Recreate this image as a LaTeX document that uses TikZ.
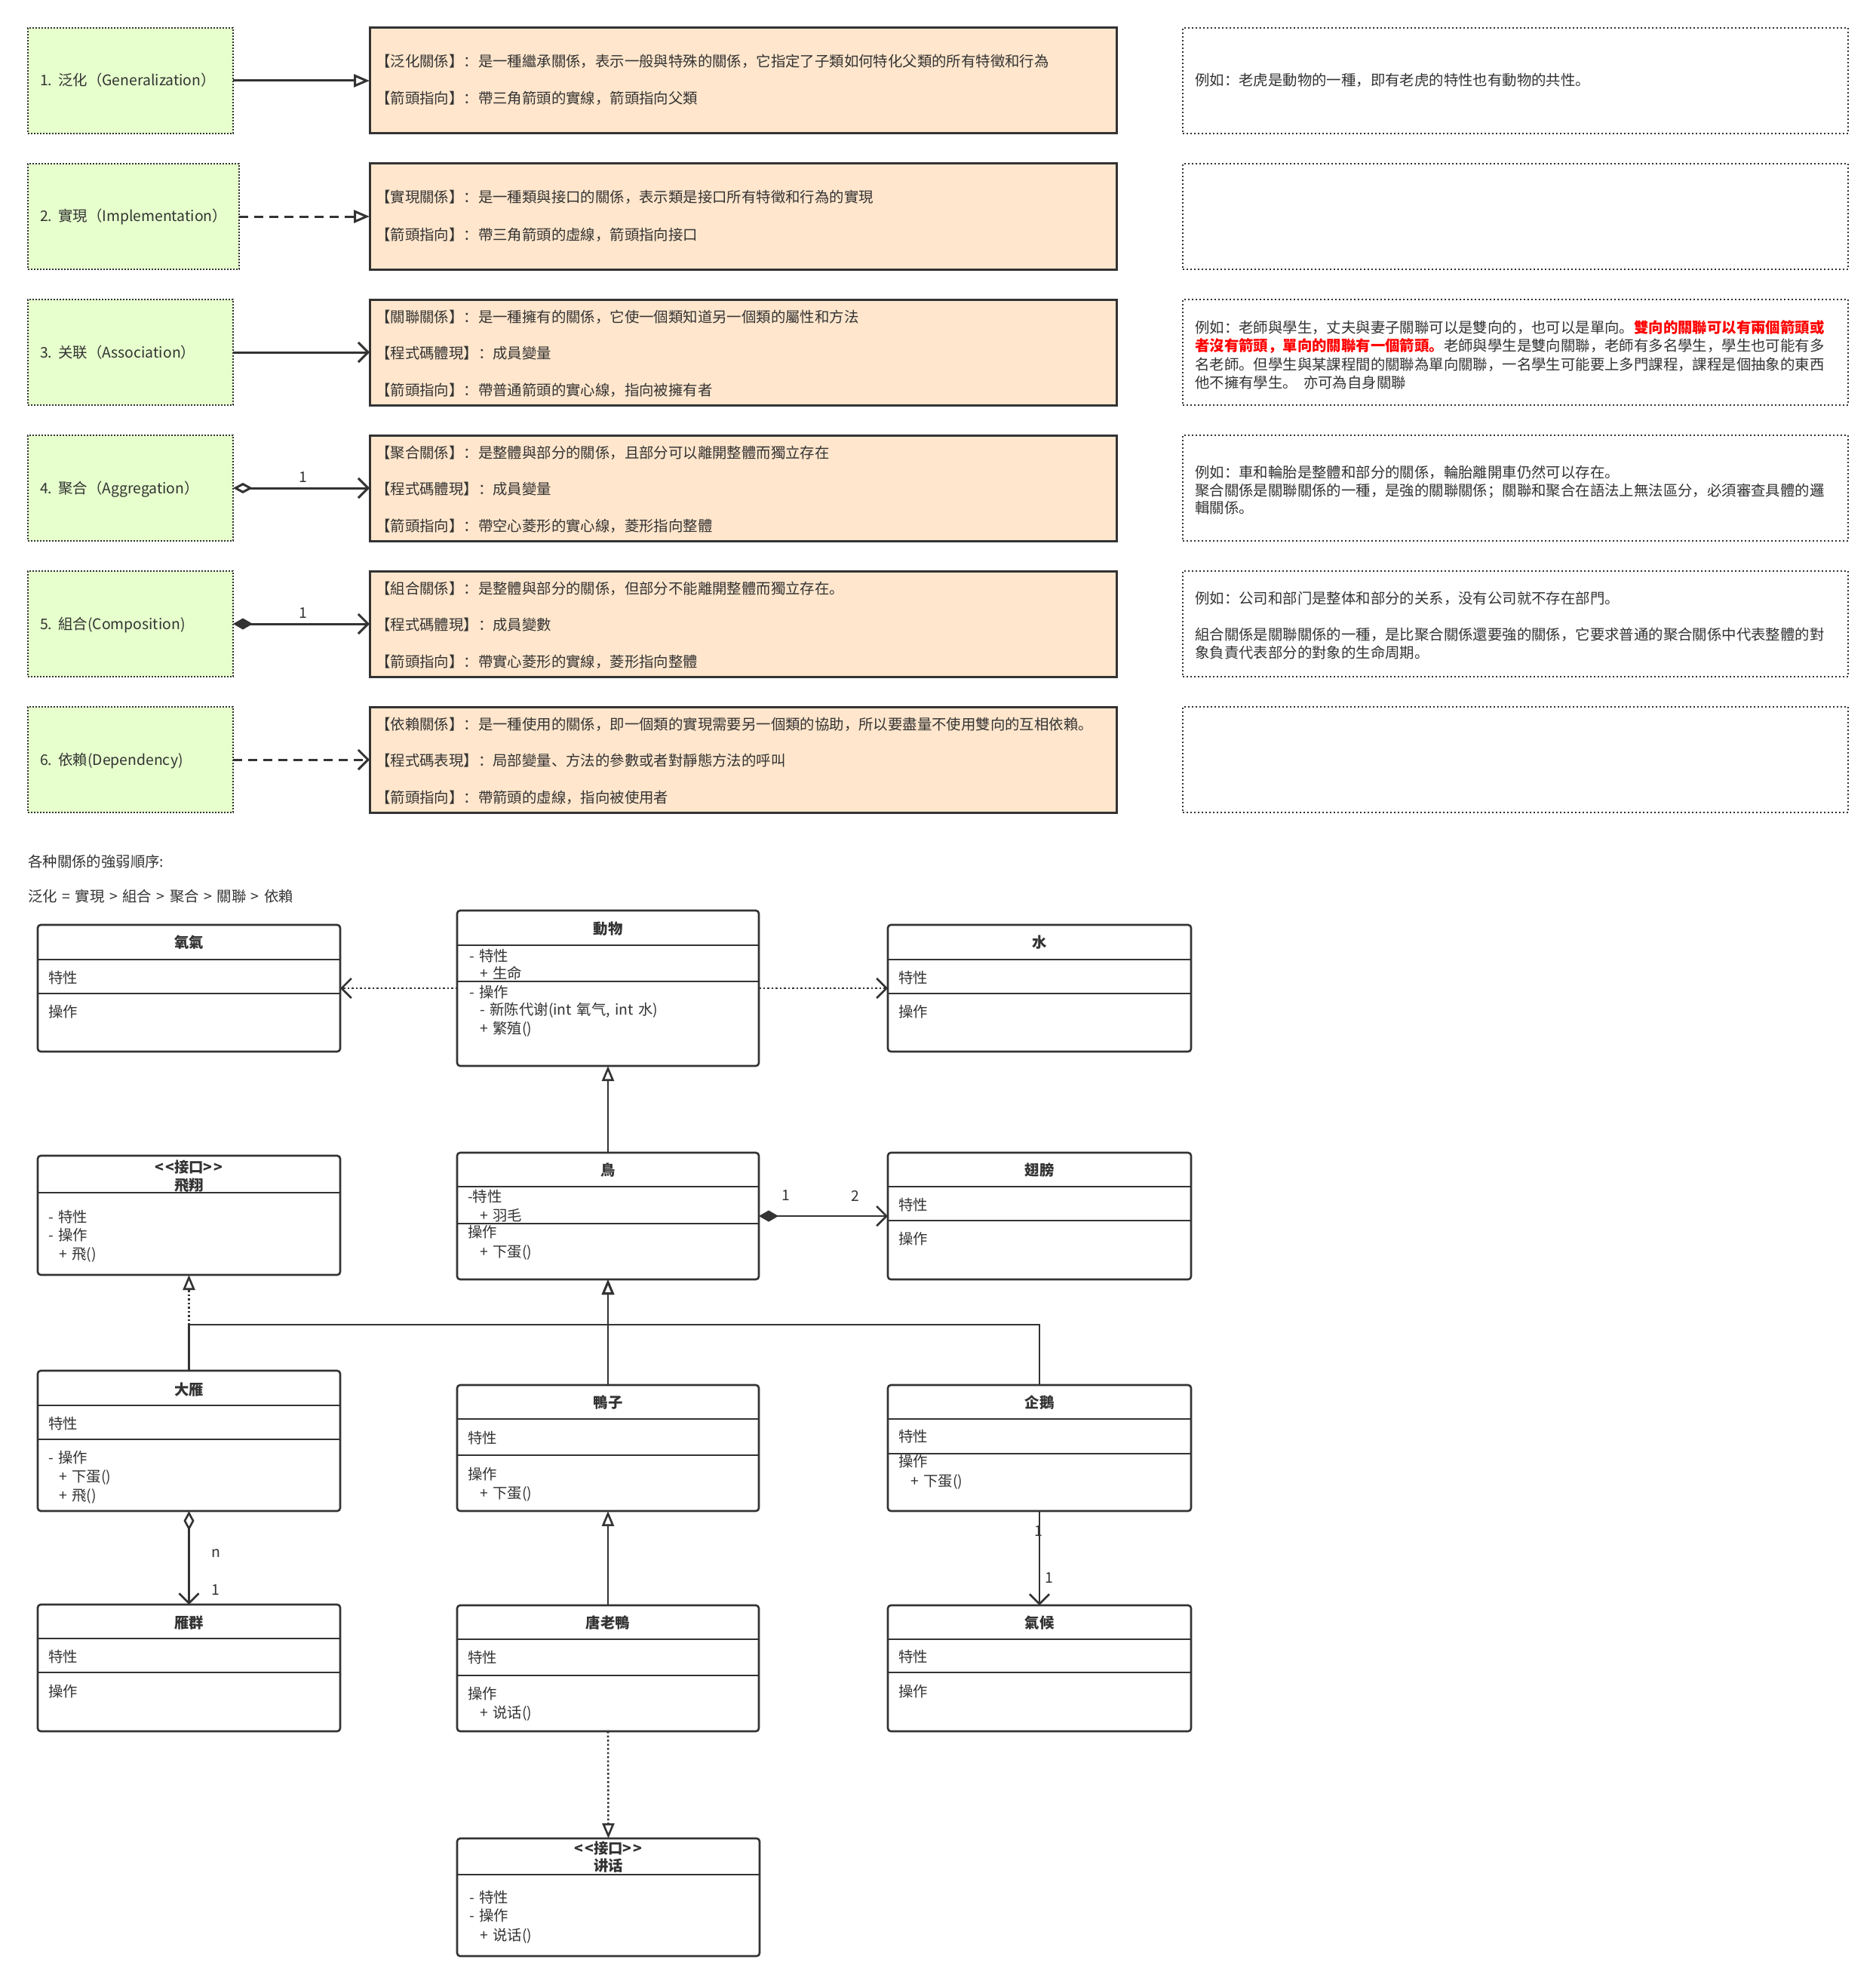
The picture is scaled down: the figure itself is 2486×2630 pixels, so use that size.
\documentclass[tikz,border=0pt]{standalone}
\usepackage{fontspec}
\setmainfont{Noto Sans CJK SC}[WordSpace=1.5]
\usetikzlibrary{arrows.meta}
\definecolor{ink}{HTML}{333333}
\definecolor{gfill}{HTML}{E6FFCC}
\definecolor{ofill}{HTML}{FFE6CC}
\newcommand\mkbox[6]{\node[#6, minimum width={#4-#2}, minimum height={#5-#3}] (#1) at ({(#2+#4)/2},{(#3+#5)/2}) {};}
\newcommand\tx[4]{\node[txt] (#1) at (#2,{#3+7}) {#4};}
\newcommand\ttl[4]{\node[ttlstyle] (#1) at (#2,{#3+7}) {#4};}
\newcommand\umlbox[7]{\mkbox{#1}{#2}{#3}{#4}{#5}{cbox}\draw[cline] (#2,#6) -- (#4,#6);\draw[cline] (#2,#7) -- (#4,#7);}
\newcommand\ifbox[6]{\mkbox{#1}{#2}{#3}{#4}{#5}{cbox}\draw[cline] (#2,#6) -- (#4,#6);}
\begin{document}
\begin{tikzpicture}[x=1pt,y=-1pt,
  every node/.style={font=\fontsize{19.4}{24}\selectfont, text=ink},
  txt/.style={anchor=base west, inner sep=0pt},
  ttlstyle/.style={anchor=base, inner sep=0pt, font=\fontsize{19.4}{24}\selectfont\bfseries},
  lbl/.style={inner sep=0pt, anchor=center},
  cbox/.style={draw=ink, line width=2.6pt, rounded corners=4pt, fill=white, inner sep=0pt, outer sep=0pt},
  cline/.style={draw=ink, line width=2.6pt},
  gbox/.style={draw=ink, fill=gfill, line width=2pt, dash pattern=on 2pt off 2pt, inner sep=0pt, outer sep=0pt},
  obox/.style={draw=ink, fill=ofill, line width=3pt, inner sep=0pt, outer sep=0pt},
  rbox/.style={draw=ink, line width=2pt, dash pattern=on 2pt off 3pt, inner sep=0pt, outer sep=0pt},
  conn/.style={draw=ink, line width=2.6pt},
  tconn/.style={draw=ink, line width=3pt},
  dotline/.style={dash pattern=on 2.5pt off 3pt},
  dashline/.style={dash pattern=on 12pt off 8pt},
  tipgen/.style={-{Triangle[open,length=20pt,width=16pt]}},
  tiptop/.style={-{Triangle[open,length=21pt,width=17pt]}},
  tipopen/.style={-{Straight Barb[length=13pt,width=26pt]}}
]
\useasboundingbox (0,0) rectangle (2486,2630);
\fill[white] (0,0) rectangle (2486,2630);

% ---------- top section ----------
\mkbox{g1}{37}{37}{309}{177}{gbox}
\mkbox{g2}{37}{217}{317}{357}{gbox}
\mkbox{g3}{37}{397}{309}{537}{gbox}
\mkbox{g4}{37}{577}{309}{717}{gbox}
\mkbox{g5}{37}{757}{309}{897}{gbox}
\mkbox{g6}{37}{937}{309}{1077}{gbox}

\mkbox{o1}{490}{37}{1480}{177}{obox}
\mkbox{o2}{490}{217}{1480}{357}{obox}
\mkbox{o3}{490}{397}{1480}{537}{obox}
\mkbox{o4}{490}{577}{1480}{717}{obox}
\mkbox{o5}{490}{757}{1480}{897}{obox}
\mkbox{o6}{490}{937}{1480}{1077}{obox}

\mkbox{r1}{1568}{37}{2450}{177}{rbox}
\mkbox{r2}{1568}{217}{2450}{357}{rbox}
\mkbox{r3}{1568}{397}{2450}{537}{rbox}
\mkbox{r4}{1568}{577}{2450}{717}{rbox}
\mkbox{r5}{1568}{757}{2450}{897}{rbox}
\mkbox{r6}{1568}{937}{2450}{1077}{rbox}

\tx{g1t}{53}{107}{1. 泛化（Generalization）}
\tx{g2t}{53}{287}{2. 實現（Implementation）}
\tx{g3t}{53}{467}{3. 关联（Association）}
\tx{g4t}{53}{647}{4. 聚合（Aggregation）}
\tx{g5t}{53}{827}{5. 組合(Composition)}
\tx{g6t}{53}{1007}{6. 依賴(Dependency)}

\tx{o1a}{498}{82}{【泛化關係】：是一種繼承關係，表示一般與特殊的關係，它指定了子類如何特化父類的所有特徵和行為}
\tx{o1b}{498}{131}{【箭頭指向】：帶三角箭頭的實線，箭頭指向父類}
\tx{o2a}{498}{262}{【實現關係】：是一種類與接口的關係，表示類是接口所有特徵和行為的實現}
\tx{o2b}{498}{311}{【箭頭指向】：帶三角箭頭的虛線，箭頭指向接口}
\tx{o3a}{498}{420}{【關聯關係】：是一種擁有的關係，它使一個類知道另一個類的屬性和方法}
\tx{o3b}{498}{468}{【程式碼體現】：成員變量}
\tx{o3c}{498}{517}{【箭頭指向】：帶普通箭頭的實心線，指向被擁有者}
\tx{o4a}{498}{600}{【聚合關係】：是整體與部分的關係，且部分可以離開整體而獨立存在}
\tx{o4b}{498}{648}{【程式碼體現】：成員變量}
\tx{o4c}{498}{697}{【箭頭指向】：帶空心菱形的實心線，菱形指向整體}
\tx{o5a}{498}{780}{【組合關係】：是整體與部分的關係，但部分不能離開整體而獨立存在。}
\tx{o5b}{498}{828}{【程式碼體現】：成員變數}
\tx{o5c}{498}{877}{【箭頭指向】：帶實心菱形的實線，菱形指向整體}
\tx{o6a}{498}{960}{【依賴關係】：是一種使用的關係，即一個類的實現需要另一個類的協助，所以要盡量不使用雙向的互相依賴。}
\tx{o6b}{498}{1008}{【程式碼表現】：局部變量、方法的參數或者對靜態方法的呼叫}
\tx{o6c}{498}{1057}{【箭頭指向】：帶箭頭的虛線，指向被使用者}

\tx{r1a}{1584}{107}{例如：老虎是動物的一種，即有老虎的特性也有動物的共性。}
\tx{r3a}{1584}{434}{例如：老師與學生，丈夫與妻子關聯可以是雙向的，也可以是單向。\textcolor{red}{\bfseries 雙向的關聯可以有兩個箭頭或}}
\tx{r3b}{1584}{458}{\textcolor{red}{\bfseries 者沒有箭頭，單向的關聯有一個箭頭。}老師與學生是雙向關聯，老師有多名學生，學生也可能有多}
\tx{r3c}{1584}{483}{名老師。但學生與某課程間的關聯為單向關聯，一名學生可能要上多門課程，課程是個抽象的東西}
\tx{r3d}{1584}{507}{他不擁有學生。\hspace{8pt}亦可為自身關聯}
\tx{r4a}{1584}{626}{例如：車和輪胎是整體和部分的關係，輪胎離開車仍然可以存在。}
\tx{r4b}{1584}{650}{聚合關係是關聯關係的一種，是強的關聯關係；關聯和聚合在語法上無法區分，必須審查具體的邏}
\tx{r4c}{1584}{673}{輯關係。}
\tx{r5a}{1584}{793}{例如：公司和部门是整体和部分的关系，没有公司就不存在部門。}
\tx{r5b}{1584}{841}{組合關係是關聯關係的一種，是比聚合關係還要強的關係，它要求普通的聚合關係中代表整體的對}
\tx{r5c}{1584}{865}{象負責代表部分的對象的生命周期。}

\draw[tconn, tiptop] (g1.east) -- (o1.west);
\draw[tconn, dashline, tiptop] (g2.east) -- (o2.west);
\draw[tconn, tipopen] (g3.east) -- (o3.west);
\draw[tconn, {Diamond[open,length=26pt,width=14pt]}-{Straight Barb[length=13pt,width=26pt]}] (g4.east) -- (o4.west);
\draw[tconn, {Diamond[length=26pt,width=15pt]}-{Straight Barb[length=13pt,width=26pt]}] (g5.east) -- (o5.west);
\draw[tconn, dashline, tipopen] (g6.east) -- (o6.west);
\node[lbl] (l4) at (402,633) {1};
\node[lbl] (l5) at (402,813) {1};

% ---------- order text ----------
\tx{ord1}{37}{1142}{各种關係的強弱順序:}
\tx{ord2}{37}{1188}{泛化 = 實現 > 組合 > 聚合 > 關聯 > 依賴}

% ---------- class diagram ----------
\umlbox{yangqi}{50}{1226}{451}{1394}{1272}{1317}
\ttl{yangqiT}{250.5}{1249}{氧氣}
\tx{yangqiA}{64}{1296}{特性}
\tx{yangqiB}{64}{1341}{操作}

\umlbox{dongwu}{606}{1207}{1006}{1413}{1253}{1301}
\ttl{dongwuT}{806}{1231}{動物}
\tx{dongwuA}{622}{1267}{- 特性}
\tx{dongwuB}{636}{1290}{+ 生命}
\tx{dongwuC}{622}{1315}{- 操作}
\tx{dongwuD}{636}{1338}{- 新陈代谢(int 氧气, int 水)}
\tx{dongwuE}{636}{1363}{+ 繁殖()}

\umlbox{shui}{1177}{1226}{1579}{1394}{1272}{1317}
\ttl{shuiT}{1378}{1249}{水}
\tx{shuiA}{1191}{1296}{特性}
\tx{shuiB}{1191}{1341}{操作}

\ifbox{feixiang}{50}{1532}{451}{1690}{1581}
\ttl{feixiangT}{250.5}{1547}{<\kern2pt<接口>\kern2pt>}
\ttl{feixiangU}{250.5}{1571}{飛翔}
\tx{feixiangA}{64}{1613}{- 特性}
\tx{feixiangB}{64}{1637}{- 操作}
\tx{feixiangC}{78}{1662}{+ 飛()}

\umlbox{niao}{606}{1528}{1006}{1696}{1573}{1622}
\ttl{niaoT}{806}{1551}{鳥}
\tx{niaoA}{620}{1586}{-特性}
\tx{niaoB}{636}{1611}{+ 羽毛}
\tx{niaoC}{620}{1633}{操作}
\tx{niaoD}{636}{1659}{+ 下蛋()}

\umlbox{chibang}{1177}{1528}{1579}{1696}{1573}{1618}
\ttl{chibangT}{1378}{1551}{翅膀}
\tx{chibangA}{1191}{1597}{特性}
\tx{chibangB}{1191}{1642}{操作}

\umlbox{dayan}{50}{1817}{451}{2003}{1863}{1908}
\ttl{dayanT}{250.5}{1842}{大雁}
\tx{dayanA}{64}{1887}{特性}
\tx{dayanB}{64}{1932}{- 操作}
\tx{dayanC}{78}{1957}{+ 下蛋()}
\tx{dayanD}{78}{1982}{+ 飛()}

\umlbox{yazi}{606}{1836}{1006}{2003}{1881}{1929}
\ttl{yaziT}{806}{1859}{鴨子}
\tx{yaziA}{620}{1906}{特性}
\tx{yaziB}{620}{1954}{操作}
\tx{yaziC}{636}{1979}{+ 下蛋()}

\umlbox{qie}{1177}{1836}{1579}{2003}{1881}{1927}
\ttl{qieT}{1378}{1859}{企鵝}
\tx{qieA}{1191}{1904}{特性}
\tx{qieB}{1191}{1937}{操作}
\tx{qieC}{1207}{1963}{+ 下蛋()}

\umlbox{yanqun}{50}{2127}{451}{2295}{2172}{2217}
\ttl{yanqunT}{250.5}{2151}{雁群}
\tx{yanqunA}{64}{2196}{特性}
\tx{yanqunB}{64}{2242}{操作}

\umlbox{tang}{606}{2128}{1006}{2295}{2173}{2221}
\ttl{tangT}{806}{2151}{唐老鴨}
\tx{tangA}{620}{2197}{特性}
\tx{tangB}{620}{2245}{操作}
\tx{tangC}{636}{2270}{+ 说话()}

\umlbox{qihou}{1177}{2128}{1579}{2295}{2173}{2217}
\ttl{qihouT}{1378}{2151}{氣候}
\tx{qihouA}{1191}{2196}{特性}
\tx{qihouB}{1191}{2242}{操作}

\ifbox{jianghua}{606}{2437}{1007}{2593}{2485}
\ttl{jianghuaT}{806.5}{2450}{<\kern2pt<接口>\kern2pt>}
\ttl{jianghuaU}{806.5}{2473}{讲话}
\tx{jianghuaA}{622}{2515}{- 特性}
\tx{jianghuaB}{622}{2539}{- 操作}
\tx{jianghuaC}{636}{2565}{+ 说话()}

% connectors
\coordinate (jn) at (806,1756);
\draw[conn, dotline, tipopen] (dongwu.west) -- (yangqi.east);
\draw[conn, dotline, tipopen] (dongwu.east) -- (shui.west);
\draw[conn, tipgen] (niao.north) -- (dongwu.south);
\draw[conn, {Diamond[length=26pt,width=15pt]}-{Straight Barb[length=13pt,width=26pt]}] (niao.east) -- (chibang.west);
\node[lbl] (c1) at (1042,1585) {1};
\node[lbl] (c2) at (1134,1585) {2};
\draw[conn, dotline, tipgen] (dayan.north) -- (feixiang.south);
\draw[conn, tipgen] (dayan.north) |- (jn) -- (niao.south);
\draw[conn, tipgen] (qie.north) |- (jn) -- (niao.south);
\draw[conn, tipgen] (yazi.north) -- (niao.south);
\draw[conn, {Diamond[open,length=26pt,width=14pt]}-{Straight Barb[length=13pt,width=26pt]}] (dayan.south) -- (yanqun.north);
\node[lbl] (an) at (286,2059) {n};
\node[lbl] (a1) at (286,2108) {1};
\draw[conn, tipgen] (tang.north) -- (yazi.south);
\draw[conn, tipopen] (qie.south) -- (qihou.north);
\node[lbl] (q1) at (1377,2030) {1};
\node[lbl] (q2) at (1391,2092) {1};
\draw[conn, dotline, tipgen] (tang.south) -- (jianghua.north);
\end{tikzpicture}
\end{document}
